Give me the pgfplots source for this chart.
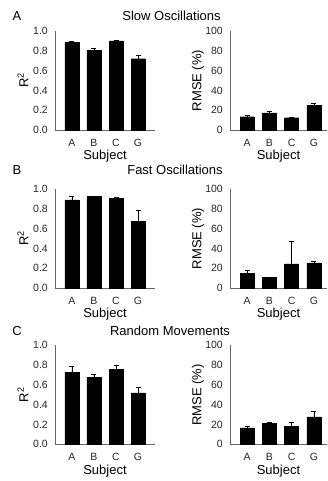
\documentclass[border=0pt]{standalone}
\usepackage{pgfplots}
\pgfplotsset{compat=1.18}
\usepackage{fontspec}
\setmainfont{Liberation Sans}

\pgfplotstableread{
x y e
0 0.888 0.004
1 0.805 0.022
2 0.900 0.006
3 0.720 0.030
}\slowR
\pgfplotstableread{
x y e
0 13.4 1.0
1 17.4 1.6
2 12.4 0.5
3 24.8 2.0
}\slowE
\pgfplotstableread{
x y e
0 0.890 0.040
1 0.925 0.003
2 0.905 0.012
3 0.675 0.105
}\fastR
\pgfplotstableread{
x y e
0 14.6 2.8
1 10.6 0.0
2 24.3 22.5
3 25.3 1.3
}\fastE
\pgfplotstableread{
x y e
0 0.727 0.060
1 0.677 0.026
2 0.757 0.036
3 0.520 0.057
}\randR
\pgfplotstableread{
x y e
0 16.7 1.6
1 21.2 1.2
2 17.8 4.5
3 27.8 5.5
}\randE

\pgfplotsset{
  panel/.style={
    scale only axis, anchor=south west,
    height=99pt, ymin=0,
    axis x line*=bottom, axis y line*=left,
    axis line style={-, draw=gray!80!black, line width=0.7pt},
    xtick={0,1,2,3}, xticklabels={A,B,C,G},
    major tick length=0pt,
    tick style={draw=none},
    /pgf/number format/assume math mode=true,
    ticklabel style={font=\fontsize{10.5}{12}\selectfont, text=black!85},
    xticklabel style={anchor=base, yshift=-16.5pt, inner sep=0pt},
    yticklabel style={anchor=east, xshift=-7pt, inner sep=0pt},
    xlabel={Subject},
    xlabel style={at={(axis description cs:0.5,0)}, anchor=base, yshift=-30pt, font=\fontsize{13}{14}\selectfont},
    ylabel style={anchor=center, font=\fontsize{13}{14}\selectfont},
    clip=false,
  },
  leftp/.style={panel, width=100pt, xmin=-0.77, xmax=3.77, ymax=1.0,
    ytick={0,0.2,...,1.0},
    yticklabel style={/pgf/number format/.cd, fixed, fixed zerofill, precision=1},
    ylabel={R\textsuperscript{2}},
    ylabel style={at={(axis description cs:-0.32,0.5)}},
  },
  rightp/.style={panel, width=97pt, xmin=-0.77, xmax=3.59, ymax=100,
    ytick={0,20,...,100},
    ylabel={RMSE (\%)},
    ylabel style={at={(axis description cs:-0.33,0.5)}},
  },
  barplot/.style={ybar, bar width=14pt, fill=black, draw=black,
    error bars/.cd, y dir=plus, y explicit,
    error bar style={line width=0.7pt, black},
    error mark options={rotate=90, line width=0.7pt, mark size=2.5pt, black}},
}

\begin{document}
\begin{tikzpicture}
\path[use as bounding box] (0pt,0pt) rectangle (327pt,481pt);
% Row A
\node[anchor=base, font=\fontsize{13}{14}\selectfont] at (17pt,460.5pt) {A};
\node[anchor=base, font=\fontsize{13}{14}\selectfont] at (171.5pt,460.5pt) {Slow Oscillations};
\begin{axis}[leftp, at={(55pt,351pt)}]
\addplot[barplot] table[x=x,y=y,y error=e]{\slowR};
\end{axis}
\begin{axis}[rightp, at={(230pt,351pt)}]
\addplot[barplot] table[x=x,y=y,y error=e]{\slowE};
\end{axis}
% Row B
\node[anchor=base, font=\fontsize{13}{14}\selectfont] at (17pt,306pt) {B};
\node[anchor=base, font=\fontsize{13}{14}\selectfont] at (175pt,306pt) {Fast Oscillations};
\begin{axis}[leftp, at={(55pt,193pt)}]
\addplot[barplot] table[x=x,y=y,y error=e]{\fastR};
\end{axis}
\begin{axis}[rightp, at={(230pt,193pt)}]
\addplot[barplot] table[x=x,y=y,y error=e]{\fastE};
\end{axis}
% Row C
\node[anchor=base, font=\fontsize{13}{14}\selectfont] at (17pt,145pt) {C};
\node[anchor=base, font=\fontsize{13}{14}\selectfont] at (170pt,145pt) {Random Movements};
\begin{axis}[leftp, at={(55pt,36.7pt)}]
\addplot[barplot] table[x=x,y=y,y error=e]{\randR};
\end{axis}
\begin{axis}[rightp, at={(230pt,36.7pt)}]
\addplot[barplot] table[x=x,y=y,y error=e]{\randE};
\end{axis}
\end{tikzpicture}
\end{document}
